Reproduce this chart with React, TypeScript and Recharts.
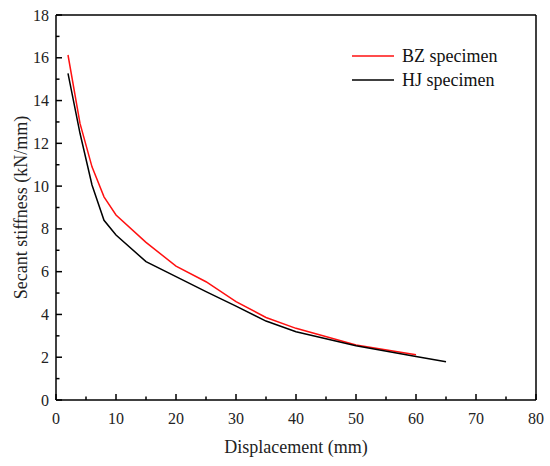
import React from "react";
import { LineChart, Line, XAxis, YAxis, ReferenceLine, Legend, Label } from "recharts";

const displacement = [2, 4, 6, 8, 10, 15, 20, 25, 30, 35, 40, 50, 60, 65];
const bzStiffness = [16.13, 12.93, 10.9, 9.5, 8.65, 7.37, 6.26, 5.53, 4.6, 3.86, 3.35, 2.57, 2.12, null];
const hjStiffness = [15.27, 12.47, 10.05, 8.4, 7.71, 6.47, 5.77, 5.07, 4.39, 3.69, 3.19, 2.54, 2.03, 1.79];

const xTicks = [0, 5, 10, 15, 20, 25, 30, 35, 40, 45, 50, 55, 60, 65, 70, 75, 80];
const yTicks = [0, 1, 2, 3, 4, 5, 6, 7, 8, 9, 10, 11, 12, 13, 14, 15, 16, 17, 18];

const data = displacement.map((x, i) => ({ x, bz: bzStiffness[i], hj: hjStiffness[i] }));

const FONT = "'Liberation Serif', 'Times New Roman', serif";

function XTick(props: any) {
  const { x, y, payload } = props;
  const major = payload.value % 10 === 0;
  return (
    <g>
      <line x1={x} y1={y} x2={x} y2={y - (major ? 6 : 3.5)} stroke="#000" strokeWidth={1.5} />
      {major && (
        <text x={x} y={y + 24} textAnchor="middle" fontSize={16} fontFamily={FONT} fill="#222">
          {payload.value}
        </text>
      )}
    </g>
  );
}

function YTick(props: any) {
  const { x, y, payload } = props;
  const major = payload.value % 2 === 0;
  return (
    <g>
      <line x1={x} y1={y} x2={x + (major ? 6 : 3.5)} y2={y} stroke="#000" strokeWidth={1.5} />
      {major && (
        <text x={x - 7} y={y + 5.5} textAnchor="end" fontSize={16} fontFamily={FONT} fill="#222">
          {payload.value}
        </text>
      )}
    </g>
  );
}

function renderLegend(props: any) {
  const { payload } = props;
  return (
    <div style={{ fontFamily: FONT, fontSize: 18, color: "#111" }}>
      {payload.map((entry: any) => (
        <div key={entry.value} style={{ display: "flex", alignItems: "center", height: 24 }}>
          <svg width={42} height={4} style={{ marginRight: 8 }}>
            <line x1={0} y1={2} x2={42} y2={2} stroke={entry.color} strokeWidth={1.5} />
          </svg>
          <span>{entry.value}</span>
        </div>
      ))}
    </div>
  );
}

export default function App() {
  return (
    <div style={{ position: "absolute", left: 0, top: 0, width: 550, height: 466, background: "#fff" }}>
      <LineChart width={550} height={466} data={data} margin={{ top: 15, right: 14, bottom: 0, left: 0 }}>
        <XAxis
          dataKey="x"
          type="number"
          domain={[0, 80]}
          ticks={xTicks}
          interval={0}
          height={66}
          tickSize={0}
          tickMargin={0}
          tick={<XTick />}
          axisLine={{ stroke: "#000", strokeWidth: 1.5 }}
          tickLine={false}
        >
          <Label
            content={(p: any) => {
              const vb = p.viewBox;
              return (
                <text x={vb.x + vb.width / 2} y={453} textAnchor="middle" fontSize={18} fontFamily={FONT} fill="#222">
                  Displacement (mm)
                </text>
              );
            }}
          />
        </XAxis>
        <YAxis
          type="number"
          domain={[0, 18]}
          ticks={yTicks}
          interval={0}
          width={56}
          tickSize={0}
          tickMargin={0}
          tick={<YTick />}
          axisLine={{ stroke: "#000", strokeWidth: 1.5 }}
          tickLine={false}
        >
          <Label
            content={(p: any) => {
              const vb = p.viewBox;
              const cy = vb.y + vb.height / 2;
              return (
                <text
                  x={21}
                  y={cy}
                  transform={`rotate(-90 21 ${cy})`}
                  textAnchor="middle"
                  dominantBaseline="central"
                  fontSize={18}
                  fontFamily={FONT}
                  fill="#222"
                >
                  Secant stiffness (kN/mm)
                </text>
              );
            }}
          />
        </YAxis>
        <ReferenceLine y={18} stroke="#000" strokeWidth={1.5} ifOverflow="extendDomain" />
        <ReferenceLine x={80} stroke="#000" strokeWidth={1.5} ifOverflow="extendDomain" />
        <Legend
          layout="vertical"
          align="center"
          verticalAlign="middle"
          content={renderLegend}
          wrapperStyle={{ left: 352, top: 44, width: 180 }}
        />
        <Line
          name="BZ specimen"
          dataKey="bz"
          stroke="#ff1010"
          strokeWidth={1.5}
          dot={false}
          isAnimationActive={false}
        />
        <Line
          name="HJ specimen"
          dataKey="hj"
          stroke="#000"
          strokeWidth={1.5}
          dot={false}
          isAnimationActive={false}
        />
      </LineChart>
    </div>
  );
}
